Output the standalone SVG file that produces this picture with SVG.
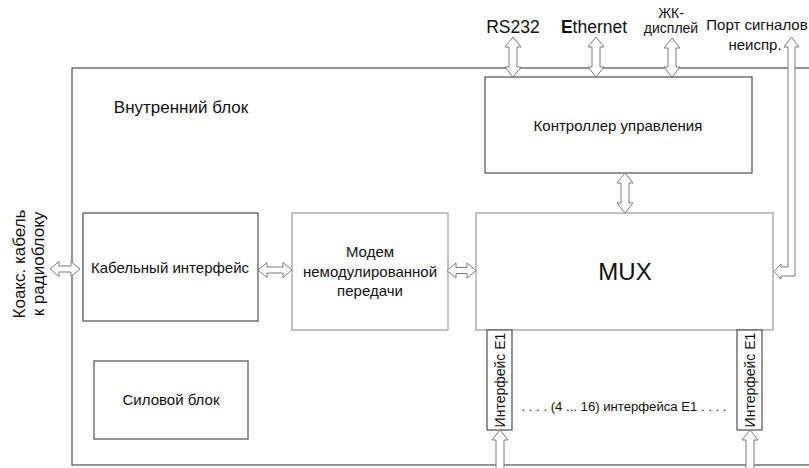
<svg xmlns="http://www.w3.org/2000/svg" width="809" height="468" viewBox="0 0 809 468">
<style>
text{font-family:"Liberation Sans",Arial,sans-serif;fill:#111}
.box{fill:#fff;stroke:#4d4d4d;stroke-width:1.2}
.lbox{fill:#fff;stroke:#999;stroke-width:1.2}
.arr{fill:#fff;stroke:#7a7a7a;stroke-width:1}
.t15{font-size:15px}
.mid{text-anchor:middle}
</style>
<rect width="809" height="468" fill="#fff"/>
<g id="inner-block">
<rect class="box" x="72" y="68" width="760" height="397"/>
<text class="mid" x="181" y="113" style="font-size:17px">Внутренний блок</text>
</g>
<g id="controller">
<rect class="box" x="485" y="77" width="267" height="96"/>
<text class="t15 mid" x="618" y="131">Контроллер управления</text>
</g>
<g id="mux">
<rect class="lbox" x="476" y="213" width="297" height="117"/>
<text class="mid" x="625" y="280" style="font-size:24px">MUX</text>
</g>
<g id="cable-if">
<rect class="box" x="83" y="213" width="175" height="108"/>
<text class="t15 mid" x="170" y="273">Кабельный интерфейс</text>
</g>
<g id="modem">
<rect class="lbox" x="292" y="213" width="156" height="117"/>
<text class="t15 mid" x="370" y="257">Модем</text>
<text class="t15 mid" x="370" y="277">немодулированной</text>
<text class="t15 mid" x="370" y="296">передачи</text>
</g>
<g id="power">
<rect class="box" x="94" y="361" width="154" height="78"/>
<text class="t15 mid" x="171" y="405">Силовой блок</text>
</g>
<g id="e1-left">
<rect class="box" x="487" y="330" width="25" height="100"/>
<text class="mid" transform="translate(505,380) rotate(-90)" style="font-size:14px">Интерфейс Е1</text>
</g>
<g id="e1-right">
<rect class="box" x="737" y="330" width="25" height="100"/>
<text class="mid" transform="translate(755,380) rotate(-90)" style="font-size:14px">Интерфейс Е1</text>
</g>
<g id="labels">
<text class="mid" x="513" y="33" style="font-size:17.5px">RS232</text>
<text class="mid" x="594" y="33" style="font-size:17.5px"><tspan font-weight="bold">E</tspan>thernet</text>
<text class="mid" x="671" y="18" style="font-size:14px">ЖК-</text>
<text class="mid" x="671" y="33" style="font-size:14px">дисплей</text>
<text class="t15 mid" x="757" y="30">Порт сигналов</text>
<text class="t15 mid" x="755" y="50">неиспр.</text>
<text class="mid" transform="translate(25,264) rotate(-90)" style="font-size:17px">Коакс. кабель</text>
<text class="mid" transform="translate(44,264) rotate(-90)" style="font-size:17px">к радиоблоку</text>
<text class="mid" x="624" y="411" style="font-size:12.5px" textLength="205" lengthAdjust="spacingAndGlyphs">. . . . (4 ... 16) интерфейса Е1 . . . .</text>
</g>
<g id="connectors">
<path class="arr" d="M50,269 L59,261.5 L59,266 L71,266 L71,261.5 L80,269 L71,276.5 L71,272 L59,272 L59,276.5 Z"/>
<path class="arr" d="M258,270 L267,262.5 L267,267 L283,267 L283,262.5 L292,270 L283,277.5 L283,273 L267,273 L267,277.5 Z"/>
<path class="arr" d="M447,270.5 L456,263 L456,267.5 L467,267.5 L467,263 L476,270.5 L467,278 L467,273.5 L456,273.5 L456,278 Z"/>
<path class="arr" d="M513,37 L521,47 L517,47 L517,67 L521,67 L513,77 L505,67 L509,67 L509,47 L505,47 Z"/>
<path class="arr" d="M596,37 L604,47 L600,47 L600,67 L604,67 L596,77 L588,67 L592,67 L592,47 L588,47 Z"/>
<path class="arr" d="M672,38 L680,48 L676,48 L676,67 L680,67 L672,77 L664,67 L668,67 L668,48 L664,48 Z"/>
<path class="arr" d="M625,173 L633,183 L629,183 L629,203 L633,203 L625,213 L617,203 L621,203 L621,183 L617,183 Z"/>
<path class="arr" d="M500,430 L508,440 L504,440 L504,470 L508,470 L500,480 L492,470 L496,470 L496,440 L492,440 Z"/>
<path class="arr" d="M750,430 L758,440 L754,440 L754,470 L758,470 L750,480 L742,470 L746,470 L746,440 L742,440 Z"/>
<path class="arr" d="M791.5,37 L799,47 L795,47 L795,276 L781,276 L781,279 L774,271.5 L781,264 L781,267 L788,267 L788,47 L784,47 Z"/>
</g>
</svg>
